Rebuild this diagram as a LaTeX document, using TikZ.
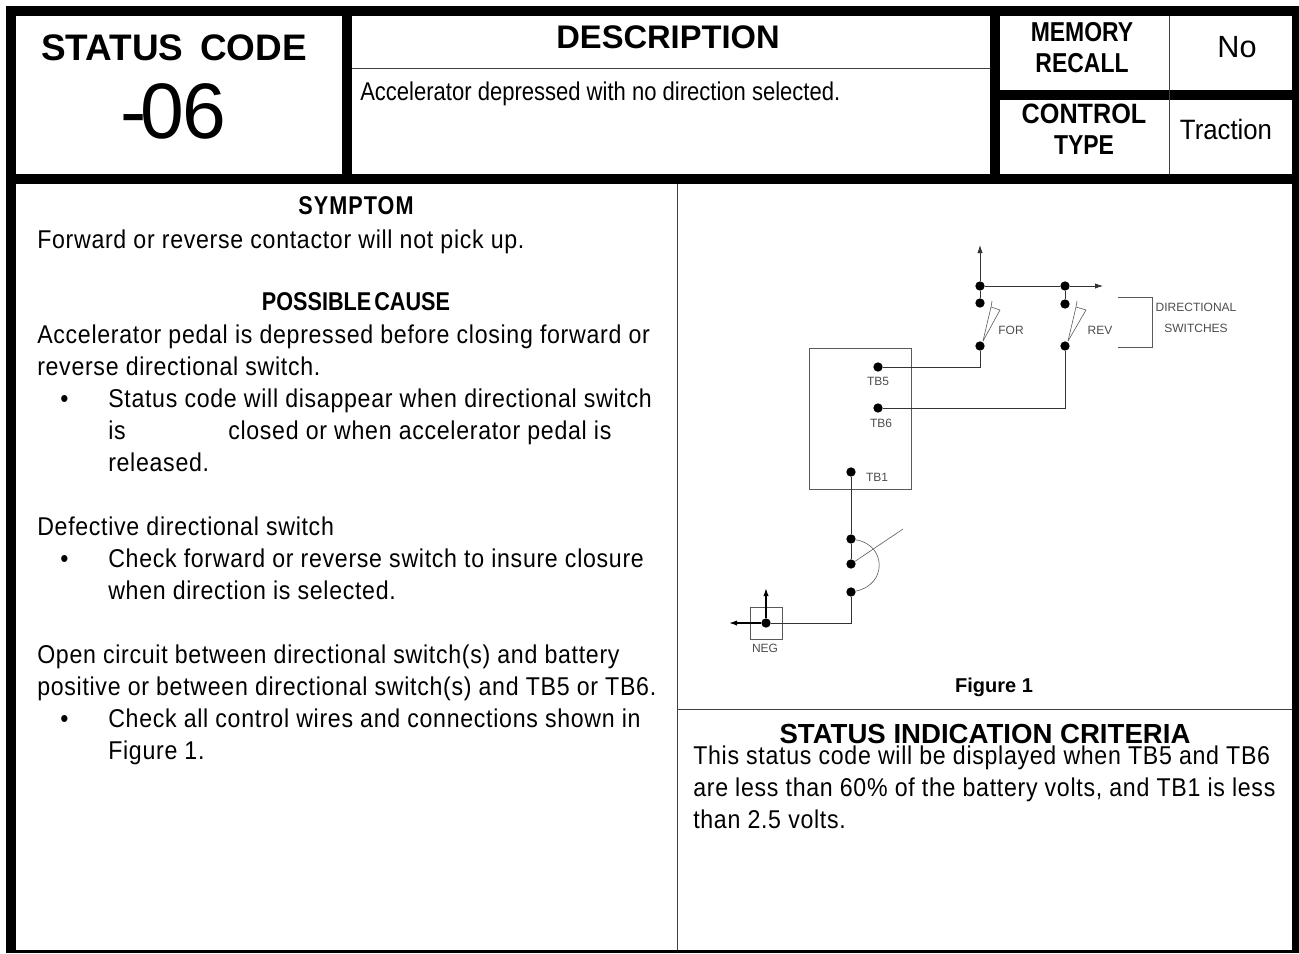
\documentclass[tikz,border=0pt]{standalone}
\usepackage{fontspec}
\setmainfont{Liberation Sans}
\newfontfamily\narrowf[FakeStretch=0.9,LetterSpace=2.7]{Liberation Sans}
\newfontfamily\narrowt[FakeStretch=0.856]{Liberation Sans}
\newfontfamily\narrowb[FakeStretch=0.84,LetterSpace=4]{Liberation Sans Bold}
\newfontfamily\narrowc[FakeStretch=0.84]{Liberation Sans Bold}
\newfontfamily\semib[FakeStretch=0.9]{Liberation Sans Bold}
\newfontfamily\semir[FakeStretch=0.92]{Liberation Sans}
\usetikzlibrary{arrows.meta}
\tikzset{
  band/.style={fill=black,draw=none},
  thin line/.style={draw=black!75,line width=0.6pt},
  wire/.style={draw=black!80,line width=0.6pt},
  sketch/.style={draw=black!65,line width=0.45pt},
  junction/.style={circle,fill=black,inner sep=0pt,minimum size=7pt},
  body/.style={anchor=base west,inner sep=0pt,font=\narrowf\fontsize{19.3}{22}\selectfont},
  heading/.style={anchor=base,inner sep=0pt,font=\narrowb\fontsize{19.3}{22}\selectfont},
  tiny label/.style={anchor=center,inner sep=0pt,text=black!70,font=\fontsize{9}{10}\selectfont},
  big/.style={anchor=base,inner sep=0pt,font=\bfseries\fontsize{27.7}{30}\selectfont},
  tip/.style={-{Latex[length=6pt,width=4pt]}}
}
\begin{document}
\begin{tikzpicture}[x=0.75pt,y=-0.75pt]
\useasboundingbox (0,0) rectangle (1299,953);
% frame bands
\fill[band] (6,6) rectangle (1299,16);
\fill[band] (6,6) rectangle (16,953);
\fill[band] (1292,6) rectangle (1299,953);
\fill[band] (6,950) rectangle (1299,953);
\fill[band] (6,174) rectangle (1299,184);
\fill[band] (342,6) rectangle (352,184);
\fill[band] (990,6) rectangle (1000,184);
\fill[band] (1000,90) rectangle (1299,100);
% thin rules
\draw[thin line] (352,68) -- (990,68);
\draw[thin line] (1169,16) -- (1169,174);
\draw[thin line] (677,184) -- (677,950);
\draw[thin line] (677,709) -- (1292,709);
% header
\node[big] (title) at (174,60) {STATUS\hspace{0.45em}CODE};
\node[anchor=base,inner sep=0pt,font=\fontsize{59}{60}\selectfont] (code) at (174,138) {\hspace{-0.02em}-\hspace{-0.08em}0\hspace{-0.02em}6};
\node[anchor=base,inner sep=0pt,font=\bfseries\fontsize{24.5}{26}\selectfont] (desc) at (668,48) {DESCRIPTION};
\node[anchor=base west,inner sep=0pt,font=\narrowt\fontsize{19.3}{22}\selectfont] (desctext) at (360,100) {Accelerator depressed with no direction selected.};
\node[anchor=base,inner sep=0pt,font=\narrowc\fontsize{20.5}{22}\selectfont] (mem1) at (1082,41) {MEMORY};
\node[anchor=base,inner sep=0pt,font=\narrowc\fontsize{20.5}{22}\selectfont] (mem2) at (1082,72) {RECALL};
\node[anchor=base,inner sep=0pt,font=\fontsize{23}{25}\selectfont] (no) at (1237,57) {No};
\node[anchor=base,inner sep=0pt,font=\semib\fontsize{21}{23}\selectfont] (ctl1) at (1084,123) {CONTROL};
\node[anchor=base,inner sep=0pt,font=\narrowc\fontsize{20.5}{22}\selectfont] (ctl2) at (1084,154) {TYPE};
\node[anchor=base,inner sep=0pt,font=\semir\fontsize{21}{23}\selectfont] (traction) at (1226,139) {Traction};
% left panel
\node[heading] (symptom) at (356,214) {SYMPTOM};
\node[body] (l1) at (37,248) {Forward or reverse contactor will not pick up.};
\node[anchor=base,inner sep=0pt,font=\narrowc\fontsize{19.3}{22}\selectfont] (cause) at (356,310) {POSSIBLE\hspace{0.12em}CAUSE};
\node[body] (l2) at (37,343) {Accelerator pedal is depressed before closing forward or};
\node[body] (l3) at (37,375) {reverse directional switch.};
\node[body] (b1) at (60,407) {•};
\node[body] (l4) at (108,407) {Status code will disappear when directional switch};
\node[body] (l5a) at (108,439) {is};
\node[body] (l5b) at (228,439) {closed or when accelerator pedal is};
\node[body] (l6) at (108,471) {released.};
\node[body] (l7) at (37,535) {Defective directional switch};
\node[body] (b2) at (60,567) {•};
\node[body] (l8) at (108,567) {Check forward or reverse switch to insure closure};
\node[body] (l9) at (108,599) {when direction is selected.};
\node[body] (l10) at (37,663) {Open circuit between directional switch(s) and battery};
\node[body] (l11) at (37,695) {positive or between directional switch(s) and TB5 or TB6.};
\node[body] (b3) at (60,727) {•};
\node[body] (l12) at (108,727) {Check all control wires and connections shown in};
\node[body] (l13) at (108,759) {Figure 1.};
% right panel
\node[anchor=base,inner sep=0pt,font=\bfseries\fontsize{15}{16}\selectfont] (figcap) at (994,692) {Figure 1};
\node[anchor=base,inner sep=0pt,font=\bfseries\fontsize{20.7}{22}\selectfont] (crit) at (985,743) {STATUS INDICATION CRITERIA};
\node[body] (r1) at (693,764) {This status code will be displayed when TB5 and TB6};
\node[body] (r2) at (693,796) {are less than 60\% of the battery volts, and TB1 is less};
\node[body] (r3) at (693,828) {than 2.5 volts.};
% circuit: junctions
\node[junction] (a1) at (980,286) {};
\node[junction] (a2) at (980,303) {};
\node[junction] (a3) at (980,346) {};
\node[junction] (b4) at (1065,286) {};
\node[junction] (b5) at (1065,304) {};
\node[junction] (b6) at (1065,346) {};
\node[junction] (tb5) at (878,367) {};
\node[junction] (tb6) at (878,408) {};
\node[junction] (tb1) at (851,472) {};
\node[junction] (k1) at (851,539) {};
\node[junction] (k2) at (851,564) {};
\node[junction] (k3) at (851,592) {};
\node[junction] (neg) at (766,623) {};
\coordinate (upTip) at (980,245);
\coordinate (rightTip) at (1103,286);
\coordinate (negUp) at (766,588);
\coordinate (negLeft) at (729,623);
\coordinate (lever) at (903,529);
\coordinate (negCorner) at (851,623);
\coordinate (forCorner) at (980,367);
\coordinate (revCorner) at (1065,408);
% module box and neg box
\draw[sketch] (809,348) rectangle (911,489);
\draw[sketch] (750,607) rectangle (782,639);
% wires
\draw[wire,tip] (a1) -- (upTip);
\draw[wire] (a1) -- (a2);
\draw[wire] (b4) -- (b5);
\draw[wire,tip] (a1) -- (b4) -- (rightTip);
\draw[wire] (tb5) -- (forCorner) -- (a3);
\draw[wire] (tb6) -- (revCorner) -- (b6);
\draw[wire] (tb1) -- (k1) -- (k2);
\draw[wire] (neg) -- (negCorner) -- (k3);
\draw[line width=1pt,tip] (neg) -- (negUp);
\draw[line width=1pt,tip] (neg) -- (negLeft);
% switch blades
\draw[sketch] (983,341) -- (991,307) -- (992,301);
\draw[sketch] (991,307) -- (1000,310) -- (983,341);
\draw[sketch] (1068,341) -- (1076,307) -- (1077,301);
\draw[sketch] (1076,307) -- (1086,310) -- (1068,341);
\draw[sketch] (k2) -- (lever);
\draw[sketch] (k1) .. controls (887,545) and (887,585) .. (k3);
% bracket
\draw[sketch] (1118,297) -- (1152,297) -- (1152,347) -- (1118,347);
% labels
\node[tiny label] (lfor) at (1011,330) {FOR};
\node[tiny label] (lrev) at (1100,330) {REV};
\node[tiny label] (ldir) at (1196,307) {DIRECTIONAL};
\node[tiny label] (lsw) at (1196,328) {SWITCHES};
\node[tiny label] (ltb5) at (878,381) {TB5};
\node[tiny label] (ltb6) at (881,423) {TB6};
\node[tiny label] (ltb1) at (877,477) {TB1};
\node[tiny label] (lneg) at (765,648) {NEG};
\end{tikzpicture}
\end{document}
